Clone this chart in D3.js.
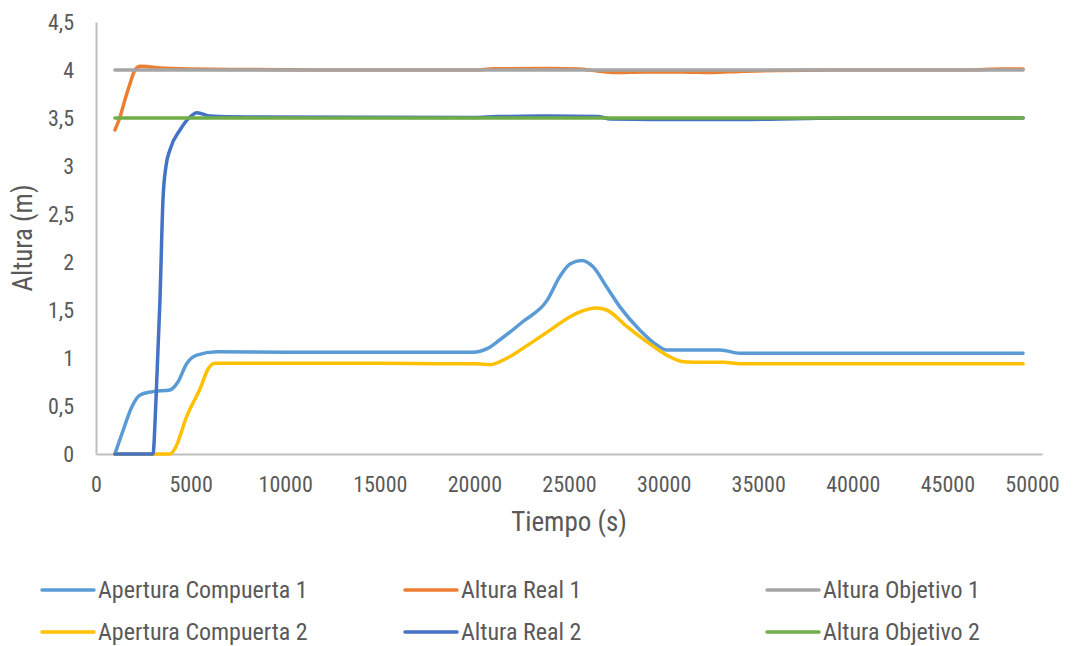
<!DOCTYPE html>
<html>
<head>
<meta charset="utf-8">
<script src="https://cdn.jsdelivr.net/npm/d3@7"></script>
<style>
  html, body { margin: 0; padding: 0; background: #fff; }
  svg text { font-family: "Liberation Sans Narrow", "Arial Narrow", "Roboto Condensed", sans-serif; fill: #595959; }
</style>
</head>
<body>
<svg id="chart" width="1075" height="646"></svg>
<script>
// ---- data (tiempo [s], altura [m]) ----
const xTicks = [0, 5000, 10000, 15000, 20000, 25000, 30000, 35000, 40000, 45000, 50000];
const yTicks = [0, 0.5, 1, 1.5, 2, 2.5, 3, 3.5, 4, 4.5];

const aperturaCompuerta1 = [[1000,0],[1440,0.25],[1890,0.49],[2330,0.615],[3010,0.65],[3910,0.667],[4330,0.75],[4790,0.94],[5320,1.03],[6380,1.066],[10000,1.06],[15000,1.06],[18180,1.06],[19930,1.06],[20700,1.1],[21350,1.19],[22570,1.38],[23840,1.60],[24520,1.85],[25050,1.98],[25670,2.015],[26270,1.95],[26990,1.74],[27700,1.53],[28750,1.29],[29640,1.135],[30160,1.083],[32980,1.083],[34040,1.05],[40000,1.05],[49000,1.05]];
const alturaReal1 = [[1000,3.375],[1270,3.51],[1530,3.69],[1800,3.86],[2060,4.0],[2330,4.04],[2750,4.035],[3380,4.02],[5000,4.01],[8000,4.005],[12000,4.0],[20000,4.0],[21000,4.012],[24000,4.015],[25500,4.01],[26500,3.99],[27500,3.975],[29000,3.98],[31000,3.98],[32500,3.975],[34000,3.985],[36000,3.995],[40000,4.0],[46000,4.0],[48000,4.01],[49000,4.01]];
const alturaObjetivo1 = [[1000,4],[49000,4]];
const aperturaCompuerta2 = [[1000,0],[2500,0],[3910,0],[4180,0.06],[4790,0.39],[5500,0.68],[5940,0.89],[6290,0.945],[7240,0.945],[15000,0.945],[18180,0.94],[20120,0.94],[20820,0.93],[21710,0.997],[22940,1.15],[24000,1.29],[24880,1.41],[25580,1.48],[26460,1.52],[26990,1.50],[28050,1.33],[29110,1.17],[30160,1.03],[31040,0.96],[31570,0.955],[33160,0.955],[34040,0.94],[40000,0.94],[49000,0.94]];
const alturaReal2 = [[1000,0],[2000,0],[3010,0],[3170,0.56],[3380,1.6],[3540,2.65],[3700,3.0],[3910,3.17],[4440,3.375],[4970,3.51],[5340,3.555],[6030,3.52],[8000,3.51],[20000,3.505],[21200,3.515],[24000,3.52],[26500,3.515],[27200,3.49],[30000,3.485],[34000,3.485],[37500,3.495],[40000,3.5],[49000,3.5]];
const alturaObjetivo2 = [[1000,3.5],[49000,3.5]];

const seriesNames = ["Apertura Compuerta 1","Altura Real 1","Altura Objetivo 1","Apertura Compuerta 2","Altura Real 2","Altura Objetivo 2"];
const seriesData = [aperturaCompuerta1, alturaReal1, alturaObjetivo1, aperturaCompuerta2, alturaReal2, alturaObjetivo2];
const seriesColors = ["#5B9BD5","#ED7D31","#A5A5A5","#FFC000","#4472C4","#70AD47"];

// ---- layout ----
const svg = d3.select("#chart");
const plotLeft = 96, plotRight = 1042, plotTop = 22, plotBottom = 454;
const x = d3.scaleLinear().domain([0, 50000]).range([plotLeft, plotRight]);
const y = d3.scaleLinear().domain([0, 4.5]).range([plotBottom, plotTop]);
const axisColor = "#BFBFBF";

// axes
const xAxis = svg.append("g").attr("transform", `translate(0,${plotBottom})`)
  .call(d3.axisBottom(x).tickValues(xTicks).tickSize(0).tickPadding(22).tickFormat(d3.format("d")));
xAxis.select(".domain").attr("stroke", axisColor).attr("stroke-width", 2);
xAxis.selectAll("text").style("font-size", "22px").attr("fill", "#595959");
xAxis.selectAll(".tick").filter(d => d === 50000).select("text").attr("dx", -10);

const yFmt = d => String(d).replace(".", ",");
const yAxis = svg.append("g").attr("transform", `translate(${plotLeft},0)`)
  .call(d3.axisLeft(y).tickValues(yTicks).tickSize(0).tickPadding(22).tickFormat(yFmt));
yAxis.select(".domain").attr("stroke", axisColor).attr("stroke-width", 2);
yAxis.selectAll("text").style("font-size", "22px").attr("fill", "#595959");

// titles
svg.append("text").attr("x", (plotLeft + plotRight) / 2).attr("y", 531).attr("text-anchor", "middle")
  .style("font-size", "27px").text("Tiempo (s)");
svg.append("text").attr("transform", `translate(32,${(plotTop + plotBottom) / 2}) rotate(-90)`).attr("text-anchor", "middle")
  .style("font-size", "27px").text("Altura (m)");

// lines
const line = d3.line().x(d => x(d[0])).y(d => y(d[1])).curve(d3.curveMonotoneX);
seriesData.forEach((s, i) => {
  svg.append("path").datum(s).attr("d", line).attr("fill", "none")
    .attr("stroke", seriesColors[i]).attr("stroke-width", 3.5)
    .attr("stroke-linejoin", "round").attr("stroke-linecap", "round");
});

// legend
const legCols = [42, 405, 767];
const legRows = [590, 632];
seriesNames.forEach((name, i) => {
  const col = i % 3, row = Math.floor(i / 3);
  const g = svg.append("g").attr("transform", `translate(${legCols[col]},${legRows[row]})`);
  g.append("line").attr("x1", 0).attr("x2", 52).attr("y1", 0).attr("y2", 0)
    .attr("stroke", seriesColors[i]).attr("stroke-width", 3.5).attr("stroke-linecap", "round");
  g.append("text").attr("x", 56).attr("y", 0).attr("dy", "0.35em")
    .style("font-size", "24px").text(name);
});
</script>
</body>
</html>
